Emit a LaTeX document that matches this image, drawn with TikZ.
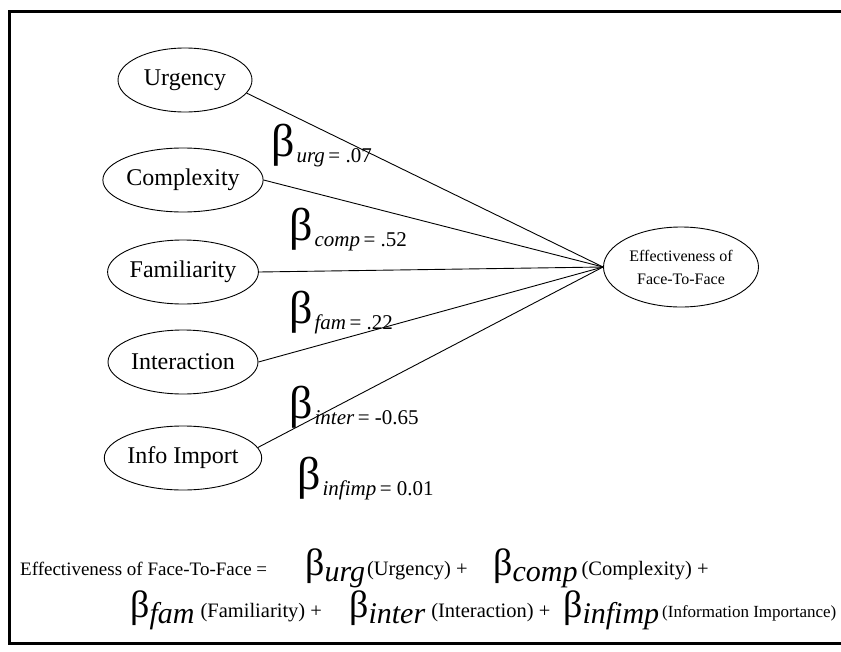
\documentclass[tikz,border=0pt]{standalone}
\usepackage{fontspec}
\setmainfont{Liberation Serif}
\usetikzlibrary{shapes.geometric}
\newcommand{\bigB}{\fontsize{46}{46}\selectfont β}
\newcommand{\lbl}[2]{\bigB\kern2pt\lower6pt\hbox{\fontsize{21}{21}\selectfont\textit{#1}\,= #2}}
\newcommand{\eqB}[2]{{\fontsize{38}{38}\selectfont β}\lower6pt\hbox{\fontsize{30}{30}\selectfont\textit{#1}}\kern#2}
\begin{document}
\begin{tikzpicture}[x=1pt,y=-1pt,
  var/.style={draw, ellipse, line width=0.9pt, inner sep=0pt, minimum height=64pt, font=\fontsize{24}{24}\selectfont},
  link/.style={line width=0.9pt},
  coef/.style={anchor=base west, inner sep=0pt},
  eqtxt/.style={anchor=base west, inner sep=0pt, font=\fontsize{19}{19}\selectfont},
  eqpar/.style={anchor=base west, inner sep=0pt, font=\fontsize{20.5}{20.5}\selectfont}]
\useasboundingbox (0,0) rectangle (841,651);
\fill[white] (0,0) rectangle (841,651);
\draw[line width=3pt] (841,11) -- (9,11) -- (9,643) -- (841,643);
\node[var, minimum width=134pt] (urg) at (185,80) {Urgency};
\node[var, minimum width=150pt] (comp) at (183,180) {Complexity};
\node[var, minimum width=150pt] (fam) at (183,272) {Familiarity};
\node[var, minimum width=150pt] (inter) at (183,362) {Interaction};
\node[var, minimum width=150pt] (inf) at (183,458) {Info Import};
\node[draw, ellipse, line width=0.9pt, minimum width=155pt, minimum height=80pt, inner sep=0pt, align=center, font=\fontsize{16}{23}\selectfont] (eff) at (681,267) {Effectiveness of\\Face-To-Face};
\draw[link] (urg.-12) -- (eff.west);
\draw[link] (comp.east) -- (eff.west);
\draw[link] (fam.east) -- (eff.west);
\draw[link] (inter.east) -- (eff.west);
\draw[link] (inf.8) -- (eff.west);
\node[coef] (c1) at (271,156) {\lbl{urg}{.07}};
\node[coef] (c2) at (289,240) {\lbl{comp}{.52}};
\node[coef] (c3) at (289,323) {\lbl{fam}{.22}};
\node[coef] (c4) at (289,418) {\lbl{inter}{-0.65}};
\node[coef] (c5) at (297,489) {\lbl{infimp}{0.01}};
\node[eqtxt] (e0) at (20,575) {Effectiveness of Face-To-Face =};
\node[eqpar] (t1) at (305,575) {\eqB{urg}{2pt}(Urgency) +};
\node[eqpar] (t2) at (493,575) {\eqB{comp}{4pt}(Complexity) +};
\node[eqpar] (t3) at (130,617) {\eqB{fam}{6pt}(Familiarity) +};
\node[eqpar] (t4) at (349,617) {\eqB{inter}{6pt}(Interaction) +};
\node[eqpar] (t5) at (563,617) {\eqB{infimp}{3pt}{\fontsize{17}{17}\selectfont(Information Importance)}};
\end{tikzpicture}
\end{document}
